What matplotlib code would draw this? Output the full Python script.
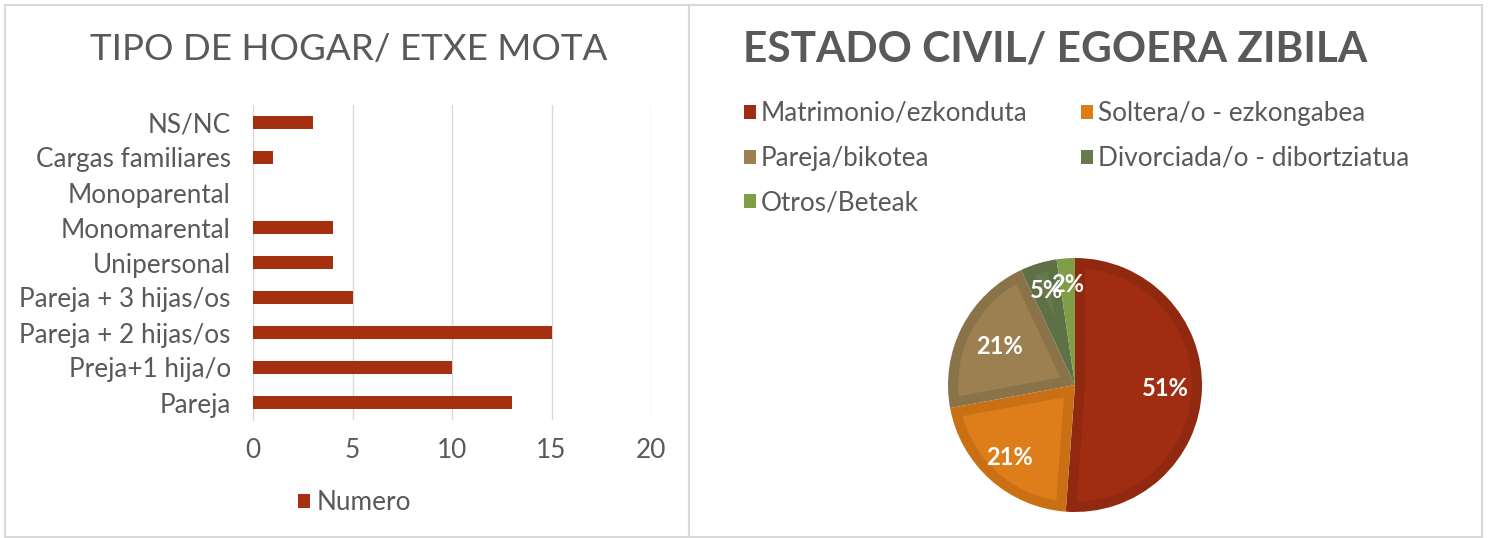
import numpy as np
import matplotlib.pyplot as plt
from matplotlib.patches import Rectangle, Polygon

plt.rcParams['font.family'] = ['Lato', 'DejaVu Sans']

# left chart: tipo de hogar
hogar_labels = ["Pareja", "Preja+1 hija/o", "Pareja + 2 hijas/os", "Pareja + 3 hijas/os",
                "Unipersonal", "Monomarental", "Monoparental", "Cargas familiares", "NS/NC"]
hogar_values = [13, 10, 15, 5, 4, 4, 0, 1, 3]
hogar_ticks = [0, 5, 10, 15, 20]

# right chart: estado civil
civil_labels = ["Matrimonio/ezkonduta", "Soltera/o - ezkongabea", "Pareja/bikotea",
                "Divorciada/o - dibortziatua", "Otros/Beteak"]
civil_values = [22, 9, 9, 2, 1]
civil_colors = ["#A02D11", "#DE7E1A", "#9C8052", "#677A4D", "#7F9E47"]
civil_edges = ["#912911", "#C97014", "#8B7349", "#5E7046", "#7F9E47"]
label_dist = [0.71, 0.77, 0.67, 0.78, 0.79]

W, H = 1488, 538
fig = plt.figure(figsize=(W / 100, H / 100), dpi=100)
text_gray = "#595959"
FS = 18.8

# panel borders
for x0, x1 in [(5, 689), (689, 1482)]:
    fig.patches.append(Rectangle((x0 / W, 1 - 537 / H), (x1 - x0) / W, 532 / H,
                                 transform=fig.transFigure, fill=False,
                                 edgecolor="#D9D9D9", linewidth=1.5))

# ---- bar chart ----
ax = fig.add_axes([253 / W, 1 - 420 / H, 398 / W, 315 / H])
y = np.arange(len(hogar_labels))
ax.barh(y, hogar_values, height=0.37, color="#A5300F", label="Numero", zorder=3)
ax.set_xlim(0, 20)
ax.set_ylim(-0.5, len(hogar_labels) - 0.5)
ax.set_xticks(hogar_ticks)
ax.set_yticks(y)
ax.set_yticklabels(hogar_labels)
ax.grid(axis="x", color="#D9D9D9", linewidth=1, zorder=0)
for s in ["top", "right", "bottom"]:
    ax.spines[s].set_visible(False)
ax.spines["left"].set_color("#D9D9D9")
ax.tick_params(axis="both", length=0, labelsize=FS, labelcolor=text_gray)
ax.tick_params(axis="x", pad=13)
ax.tick_params(axis="y", pad=16)
fig.text(349 / W, 1 - 50 / H, "TIPO DE HOGAR/ ETXE MOTA", ha="center", va="center",
         fontsize=26.5, color=text_gray)
ax.legend(loc="center", bbox_to_anchor=(0.256, -0.263), frameon=False, fontsize=FS,
          handlelength=0.45, handleheight=0.45, handletextpad=0.25, labelcolor=text_gray)

# ---- pie chart ----
r = 127
pax = fig.add_axes([(1075 - r) / W, 1 - (385 + r) / H, 2 * r / W, 2 * r / H])
wedges, _ = pax.pie(civil_values, colors=civil_edges, startangle=90,
                    counterclock=False, radius=1, wedgeprops=dict(linewidth=0))

# lighter inner part of each slice (bevel look)
d = 0.08
for w, col in zip(wedges, civil_colors):
    t1, t2 = np.deg2rad(w.theta1), np.deg2rad(w.theta2)
    h = (t2 - t1) / 2
    b = t1 + h
    P = np.array([np.cos(b), np.sin(b)]) * d / np.sin(h)
    rin = 1 - d
    if np.hypot(*P) >= rin:
        continue
    ends = []
    for t in (t1, t2):
        e = np.array([np.cos(t), np.sin(t)])
        pe = P @ e
        s = -pe + np.sqrt(pe ** 2 - P @ P + rin ** 2)
        ends.append(P + s * e)
    a1 = np.arctan2(ends[0][1], ends[0][0])
    a2 = np.arctan2(ends[1][1], ends[1][0])
    while a2 < a1:
        a2 += 2 * np.pi
    arc = np.linspace(a1, a2, 100)
    pts = np.vstack([P, np.column_stack([rin * np.cos(arc), rin * np.sin(arc)])])
    pax.add_patch(Polygon(pts, closed=True, facecolor=col, edgecolor="none", zorder=2))

total = sum(civil_values)
for w, v, dist in zip(wedges, civil_values, label_dist):
    m = np.deg2rad((w.theta1 + w.theta2) / 2)
    pax.text(dist * np.cos(m), dist * np.sin(m), f"{100 * v / total:.0f}%", ha="center",
             va="center", color="white", fontsize=17, fontweight="bold", zorder=5)
pax.set_xlim(-1, 1)
pax.set_ylim(-1, 1)
pax.set_aspect("equal")
pax.axis("off")

fig.text(1055 / W, 1 - 50 / H, "ESTADO CIVIL/ EGOERA ZIBILA", ha="center", va="center",
         fontsize=30.5, color=text_gray, fontweight="bold")
handles = [Rectangle((0, 0), 1, 1, facecolor=c, edgecolor="none") for c in civil_colors]
order = [0, 2, 4, 1, 3]
fig.legend([handles[i] for i in order], [civil_labels[i] for i in order],
           loc="upper left", bbox_to_anchor=(744 / W, 1 - 101 / H),
           ncol=2, frameon=False, fontsize=FS, handlelength=0.45, handleheight=0.45,
           handletextpad=0.2, columnspacing=2.05, labelspacing=0.76, borderpad=0,
           borderaxespad=0, labelcolor=text_gray)

fig.savefig("out.png", dpi=100)
